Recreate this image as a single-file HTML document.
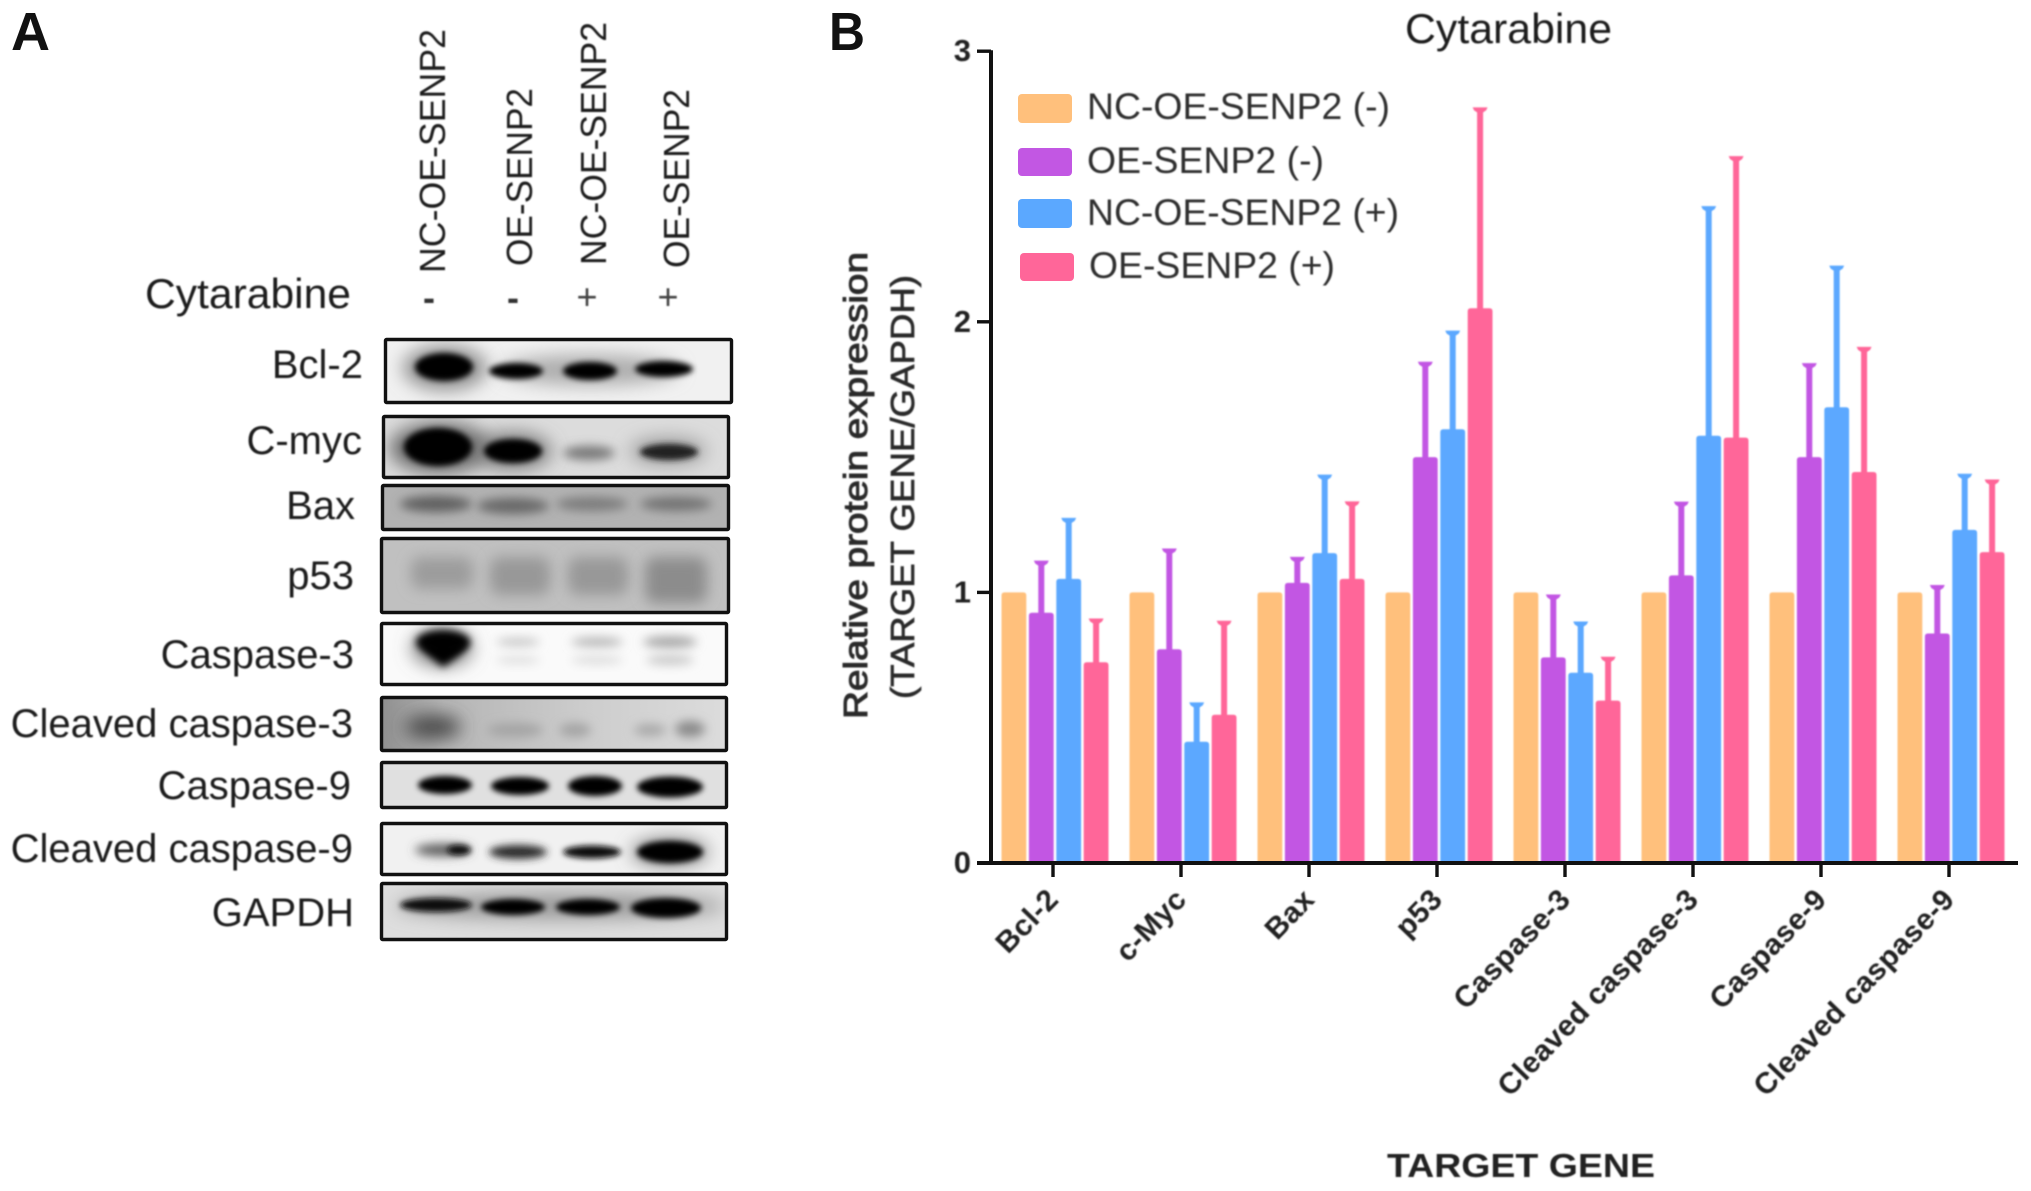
<!DOCTYPE html>
<html lang="en">
<head>
<meta charset="utf-8">
<title>Western blot and protein expression chart</title>
<style>
html,body{margin:0;padding:0;background:#fff;width:2031px;height:1191px;overflow:hidden}
svg{display:block;font-family:"Liberation Sans",Arial,sans-serif}
.soft{filter:url(#soft)}
.b3{filter:url(#b3)}
.b4{filter:url(#b4)}
.b5{filter:url(#b5)}
.b7{filter:url(#b7)}
.b8{filter:url(#b8)}
.frame{fill:none;stroke:#111;stroke-width:3.4}
.lbl{font-size:40px;fill:#1c1c1c;text-anchor:end}
.lane{font-size:36px;fill:#1c1c1c}
.leg{font-size:37px;fill:#2e2e2e}
</style>
</head>
<body>
<svg id="figure" xmlns="http://www.w3.org/2000/svg" width="2031" height="1191" viewBox="0 0 2031 1191">
<defs>
<filter id="soft" x="-5%" y="-5%" width="110%" height="110%"><feGaussianBlur stdDeviation="0.7"/></filter>
<filter id="b3" x="-50%" y="-100%" width="200%" height="300%"><feGaussianBlur stdDeviation="3"/></filter>
<filter id="b4" x="-50%" y="-100%" width="200%" height="300%"><feGaussianBlur stdDeviation="4"/></filter>
<filter id="b5" x="-50%" y="-100%" width="200%" height="300%"><feGaussianBlur stdDeviation="5"/></filter>
<filter id="b7" x="-50%" y="-100%" width="200%" height="300%"><feGaussianBlur stdDeviation="7"/></filter>
<filter id="b8" x="-50%" y="-100%" width="200%" height="300%"><feGaussianBlur stdDeviation="9"/></filter>
<linearGradient id="cl3bg" x1="0" x2="1" y1="0" y2="0"><stop offset="0" stop-color="#8f8f8f"/><stop offset=".18" stop-color="#b5b5b5"/><stop offset=".6" stop-color="#cdcdcd"/><stop offset="1" stop-color="#dcdcdc"/></linearGradient>
<clipPath id="c1"><rect x="385" y="339" width="347" height="64"/></clipPath>
<clipPath id="c2"><rect x="383" y="416" width="346" height="62"/></clipPath>
<clipPath id="c3"><rect x="382" y="485" width="347" height="45"/></clipPath>
<clipPath id="c4"><rect x="381" y="538" width="348" height="75"/></clipPath>
<clipPath id="c5"><rect x="381" y="623" width="346" height="62"/></clipPath>
<clipPath id="c6"><rect x="381" y="697" width="346" height="54"/></clipPath>
<clipPath id="c7"><rect x="381" y="762" width="346" height="46"/></clipPath>
<clipPath id="c8"><rect x="381" y="823" width="346" height="52"/></clipPath>
<clipPath id="c9"><rect x="381" y="883" width="346" height="57"/></clipPath>
</defs>

<g id="panel-a">
  <text x="11" y="50" font-size="54" font-weight="bold" fill="#111" textLength="39" lengthAdjust="spacingAndGlyphs">A</text>

  <g class="soft">
    <text class="lane" transform="translate(445,273) rotate(-90)" textLength="244" lengthAdjust="spacingAndGlyphs">NC-OE-SENP2</text>
    <text class="lane" transform="translate(532,266) rotate(-90)" textLength="178" lengthAdjust="spacingAndGlyphs">OE-SENP2</text>
    <text class="lane" transform="translate(606,265) rotate(-90)" textLength="243" lengthAdjust="spacingAndGlyphs">NC-OE-SENP2</text>
    <text class="lane" transform="translate(689,268) rotate(-90)" textLength="179" lengthAdjust="spacingAndGlyphs">OE-SENP2</text>
    <text x="145" y="308" font-size="42" fill="#1c1c1c" textLength="206" lengthAdjust="spacingAndGlyphs">Cytarabine</text>
    <text x="429" y="310" font-size="36" font-weight="bold" fill="#333" text-anchor="middle">-</text>
    <text x="513" y="310" font-size="36" font-weight="bold" fill="#333" text-anchor="middle">-</text>
    <text x="587" y="309" font-size="36" fill="#444" text-anchor="middle">+</text>
    <text x="668" y="309" font-size="36" fill="#444" text-anchor="middle">+</text>

    <text class="lbl" x="363" y="378">Bcl-2</text>
    <text class="lbl" x="362" y="454">C-myc</text>
    <text class="lbl" x="355" y="519">Bax</text>
    <text class="lbl" x="354" y="589">p53</text>
    <text class="lbl" x="354" y="668">Caspase-3</text>
    <text class="lbl" x="353" y="737">Cleaved caspase-3</text>
    <text class="lbl" x="351" y="799">Caspase-9</text>
    <text class="lbl" x="353" y="862">Cleaved caspase-9</text>
    <text class="lbl" x="354" y="926">GAPDH</text>
  </g>

  <g>
    <g clip-path="url(#c1)">
      <rect x="385" y="339" width="347" height="64" fill="#f1f1f1"/>
      <ellipse class="b8" cx="445" cy="368" rx="42" ry="22" fill="#8c8c8c"/>
      <ellipse class="b8" cx="590" cy="370" rx="88" ry="15" fill="#aaa"/>
      <ellipse class="b3" cx="444" cy="367" rx="29" ry="14" fill="#000"/>
      <ellipse class="b3" cx="516" cy="371" rx="27" ry="8" fill="#050505"/>
      <ellipse class="b3" cx="590" cy="371" rx="27" ry="9" fill="#000"/>
      <ellipse class="b3" cx="664" cy="369" rx="29" ry="8" fill="#000"/>
    </g>
    <rect class="frame" x="385.5" y="339.5" width="346" height="63" rx="1"/>
  </g>

  <g>
    <g clip-path="url(#c2)">
      <rect x="383" y="416" width="346" height="62" fill="#dcdcdc"/>
      <ellipse class="b8" cx="440" cy="448" rx="50" ry="25" fill="#666"/>
      <ellipse class="b8" cx="513" cy="451" rx="38" ry="18" fill="#777"/>
      <ellipse class="b8" cx="668" cy="451" rx="38" ry="13" fill="#999"/>
      <ellipse class="b3" cx="438" cy="447" rx="34" ry="19" fill="#000"/>
      <ellipse class="b3" cx="513" cy="451" rx="29" ry="12" fill="#000"/>
      <ellipse class="b5" cx="589" cy="453" rx="26" ry="7" fill="#777"/>
      <ellipse class="b3" cx="669" cy="452" rx="29" ry="8" fill="#222"/>
    </g>
    <rect class="frame" x="383.5" y="416.5" width="345" height="61" rx="1"/>
  </g>

  <g>
    <g clip-path="url(#c3)">
      <rect x="382" y="485" width="347" height="45" fill="#b2b2b2"/>
      <ellipse class="b5" cx="436" cy="504" rx="36" ry="8" fill="#5e5e5e"/>
      <ellipse class="b5" cx="513" cy="506" rx="36" ry="8" fill="#686868"/>
      <ellipse class="b5" cx="592" cy="504" rx="36" ry="7" fill="#7c7c7c"/>
      <ellipse class="b5" cx="676" cy="504" rx="36" ry="7" fill="#727272"/>
    </g>
    <rect class="frame" x="382.5" y="485.5" width="346" height="44" rx="1"/>
  </g>

  <g>
    <g clip-path="url(#c4)">
      <rect x="381" y="538" width="348" height="75" fill="#c0c0c0"/>
      <rect class="b7" x="411" y="557" width="62" height="32" rx="10" fill="#9c9c9c"/>
      <rect class="b7" x="490" y="557" width="60" height="38" rx="10" fill="#989898"/>
      <rect class="b7" x="568" y="557" width="60" height="38" rx="10" fill="#989898"/>
      <rect class="b7" x="645" y="557" width="62" height="46" rx="10" fill="#8c8c8c"/>
    </g>
    <rect class="frame" x="381.5" y="538.5" width="347" height="74" rx="1"/>
  </g>

  <g>
    <g clip-path="url(#c5)">
      <rect x="381" y="623" width="346" height="62" fill="#fafafa"/>
      <ellipse class="b8" cx="442" cy="648" rx="30" ry="18" fill="#777"/>
      <ellipse class="b4" cx="443" cy="642" rx="27" ry="12" fill="#000"/>
      <path class="b4" d="M421 642 L468 642 Q462 655 443 667 Q426 655 421 642 Z" fill="#000"/>
      <ellipse class="b5" cx="518" cy="642" rx="22" ry="4" fill="#c4c4c4"/>
      <ellipse class="b5" cx="518" cy="660" rx="22" ry="4" fill="#dedede"/>
      <ellipse class="b5" cx="597" cy="642" rx="26" ry="5" fill="#b8b8b8"/>
      <ellipse class="b5" cx="597" cy="660" rx="26" ry="4" fill="#dadada"/>
      <ellipse class="b5" cx="670" cy="642" rx="27" ry="6" fill="#a8a8a8"/>
      <ellipse class="b5" cx="670" cy="660" rx="24" ry="5" fill="#c8c8c8"/>
    </g>
    <rect class="frame" x="381.5" y="623.5" width="345" height="61" rx="1"/>
  </g>

  <g>
    <g clip-path="url(#c6)">
      <rect x="381" y="697" width="346" height="54" fill="url(#cl3bg)"/>
      <ellipse class="b8" cx="433" cy="727" rx="28" ry="12" fill="#4a4a4a"/>
      <ellipse class="b5" cx="515" cy="730" rx="28" ry="7" fill="#a4a4a4"/>
      <ellipse class="b5" cx="575" cy="730" rx="16" ry="7" fill="#a4a4a4"/>
      <ellipse class="b5" cx="650" cy="730" rx="16" ry="6" fill="#a8a8a8"/>
      <ellipse class="b5" cx="690" cy="729" rx="15" ry="8" fill="#8a8a8a"/>
    </g>
    <rect class="frame" x="381.5" y="697.5" width="345" height="53" rx="1"/>
  </g>

  <g>
    <g clip-path="url(#c7)">
      <rect x="381" y="762" width="346" height="46" fill="#e0e0e0"/>
      <ellipse class="b3" cx="445" cy="785" rx="27" ry="9" fill="#000"/>
      <ellipse class="b3" cx="520" cy="786" rx="29" ry="9" fill="#000"/>
      <ellipse class="b3" cx="595" cy="786" rx="27" ry="10" fill="#000"/>
      <ellipse class="b3" cx="670" cy="787" rx="33" ry="10.5" fill="#000"/>
    </g>
    <rect class="frame" x="381.5" y="762.5" width="345" height="45" rx="1"/>
  </g>

  <g>
    <g clip-path="url(#c8)">
      <rect x="381" y="823" width="346" height="52" fill="#f1f1f1"/>
      <ellipse class="b5" cx="443" cy="850" rx="28" ry="6" fill="#555"/>
      <ellipse class="b3" cx="459" cy="850" rx="12" ry="5" fill="#111"/>
      <ellipse class="b4" cx="518" cy="852" rx="29" ry="7" fill="#2a2a2a"/>
      <ellipse class="b3" cx="592" cy="852" rx="29" ry="6.5" fill="#0a0a0a"/>
      <ellipse class="b8" cx="670" cy="852" rx="38" ry="13" fill="#777"/>
      <ellipse class="b3" cx="670" cy="852" rx="33" ry="11" fill="#000"/>
    </g>
    <rect class="frame" x="381.5" y="823.5" width="345" height="51" rx="1"/>
  </g>

  <g>
    <g clip-path="url(#c9)">
      <rect x="381" y="883" width="346" height="57" fill="#dedede"/>
      <ellipse class="b8" cx="560" cy="906" rx="165" ry="13" fill="#999"/>
      <ellipse class="b3" cx="436" cy="905" rx="36" ry="7" fill="#0a0a0a"/>
      <ellipse class="b3" cx="513" cy="907" rx="32" ry="8" fill="#000"/>
      <ellipse class="b3" cx="588" cy="907" rx="32" ry="8" fill="#000"/>
      <ellipse class="b3" cx="666" cy="908" rx="35" ry="10" fill="#000"/>
    </g>
    <rect class="frame" x="381.5" y="883.5" width="345" height="56" rx="1"/>
  </g>
</g>

<g id="panel-b">
  <text x="829" y="50" font-size="54" font-weight="bold" fill="#111" textLength="36" lengthAdjust="spacingAndGlyphs">B</text>
  <text class="soft" x="1405" y="43" font-size="42" fill="#1c1c1c" textLength="207" lengthAdjust="spacingAndGlyphs">Cytarabine</text>

  <g id="bars" class="soft"></g>
  <g id="axes"></g>

  <g class="soft">
    <text transform="translate(867,719) rotate(-90)" font-size="33" fill="#2a2a2a" stroke="#2a2a2a" stroke-width="1" textLength="467" lengthAdjust="spacingAndGlyphs">Relative protein expression</text>
    <text transform="translate(914,699) rotate(-90)" font-size="33" fill="#2a2a2a" stroke="#2a2a2a" stroke-width="0.7" textLength="424" lengthAdjust="spacingAndGlyphs">(TARGET GENE/GAPDH)</text>
    <text x="1387" y="1177" font-size="33" font-weight="bold" fill="#222" textLength="268" lengthAdjust="spacingAndGlyphs">TARGET GENE</text>
  </g>

  <g class="legend">
    <g>
      <rect x="1018" y="94" width="54" height="29" rx="4" fill="#FFC07C"/>
      <text class="leg soft" x="1087" y="119" textLength="303" lengthAdjust="spacingAndGlyphs">NC-OE-SENP2 (-)</text>
    </g>
    <g>
      <rect x="1018" y="148" width="54" height="28" rx="4" fill="#C257E3"/>
      <text class="leg soft" x="1087" y="173" textLength="237" lengthAdjust="spacingAndGlyphs">OE-SENP2 (-)</text>
    </g>
    <g>
      <rect x="1018" y="199" width="54" height="29" rx="4" fill="#5BA8FF"/>
      <text class="leg soft" x="1087" y="225" textLength="312" lengthAdjust="spacingAndGlyphs">NC-OE-SENP2 (+)</text>
    </g>
    <g>
      <rect x="1020" y="253" width="54" height="28" rx="4" fill="#FF6699"/>
      <text class="leg soft" x="1089" y="278" textLength="246" lengthAdjust="spacingAndGlyphs">OE-SENP2 (+)</text>
    </g>
  </g>
</g>
</svg>

<script>
var categories = ['Bcl-2','c-Myc','Bax','p53','Caspase-3','Cleaved caspase-3','Caspase-9','Cleaved caspase-9'];
var seriesNames = ['NC-OE-SENP2 (-)','OE-SENP2 (-)','NC-OE-SENP2 (+)','OE-SENP2 (+)'];
var seriesColors = ['#FFC07C','#C257E3','#5BA8FF','#FF6699'];
var yTicks = [0,1,2,3];
var ncMinusValues = [1,1,1,1,1,1,1,1];
var oeMinusValues = [0.925,0.79,1.035,1.5,0.76,1.063,1.5,0.848];
var ncPlusValues  = [1.05,0.448,1.145,1.603,0.703,1.579,1.684,1.231];
var oePlusValues  = [0.742,0.548,1.05,2.05,0.6,1.572,1.445,1.149];
var ncMinusUpper = [null,null,null,null,null,null,null,null];
var oeMinusUpper = [1.11,1.155,1.124,1.845,0.985,1.328,1.84,1.02];
var ncPlusUpper  = [1.268,0.586,1.428,1.96,0.885,2.42,2.2,1.431];
var oePlusUpper  = [0.896,0.888,1.329,2.785,0.755,2.605,1.9,1.41];

var NS = 'http://www.w3.org/2000/svg';
var allValues = [ncMinusValues, oeMinusValues, ncPlusValues, oePlusValues];
var allUpper = [ncMinusUpper, oeMinusUpper, ncPlusUpper, oePlusUpper];

function yScale(v){ return 863 - v * 270.6; }
function xCenter(i){ return 1055 + i * 128; }
function xBar(i, s){ return xCenter(i) + (s - 1.5) * 27.4; }
function xTick(i){ return 1053 + i * 128; }
function make(tag, parent, attrs){
  var el = document.createElementNS(NS, tag);
  for (var k in attrs) el.setAttribute(k, attrs[k]);
  parent.appendChild(el);
  return el;
}
var slug = function(t){ return t.toLowerCase().replace(/[^a-z0-9]+/g, '-').replace(/-$/, ''); };

var barsLayer = document.getElementById('bars');
var axesLayer = document.getElementById('axes');
var BAR_W = 24.8;

categories.forEach(function(cat, i){
  seriesNames.forEach(function(name, s){
    var cx = xBar(i, s), top = yScale(allValues[s][i]), base = yScale(0);
    var upper = allUpper[s][i];
    var color = seriesColors[s];
    if (upper !== null) {
      var stem = make('line', barsLayer, {x1: cx, x2: cx, y1: top + 2, y2: yScale(upper), stroke: color, 'stroke-width': 6});
      
      
      var capY = yScale(upper);
      var cap = make('path', barsLayer, {d: 'M' + (cx - 7.5) + ' ' + (capY - 2) + ' L' + (cx + 7.5) + ' ' + (capY - 2) + ' L' + (cx + 6) + ' ' + (capY + 1) + ' L' + (cx + 3) + ' ' + (capY + 3) + ' L' + (cx - 3) + ' ' + (capY + 3) + ' L' + (cx - 6) + ' ' + (capY + 1) + ' Z', fill: color});
      
      
    }
    var l = cx - BAR_W / 2, r = cx + BAR_W / 2;
    var bar = make('path', barsLayer, {d: 'M' + l + ' ' + base + ' L' + l + ' ' + (top + 3) + ' Q' + l + ' ' + top + ' ' + (l + 3) + ' ' + top + ' L' + (r - 3) + ' ' + top + ' Q' + r + ' ' + top + ' ' + r + ' ' + (top + 3) + ' L' + r + ' ' + base + ' Z', fill: color});
    
    
  });
});

var yLine = make('line', axesLayer, {x1: 991, x2: 991, y1: yScale(3) - 1, y2: yScale(0) + 2, stroke: '#111', 'stroke-width': 4});


var xLine = make('line', axesLayer, {x1: 977, x2: 2018, y1: yScale(0), y2: yScale(0), stroke: '#111', 'stroke-width': 4});



yTicks.forEach(function(t){
  var tick = make('line', axesLayer, {x1: 977, x2: 991, y1: yScale(t), y2: yScale(t), stroke: '#111', 'stroke-width': 3.4});
  
  
  var lab = make('text', axesLayer, {x: 971, y: yScale(t) + 10, 'text-anchor': 'end', 'font-size': 31, 'font-weight': 'bold', fill: '#222', class: 'soft'});
  lab.textContent = t;
  
  
});

categories.forEach(function(cat, i){
  var tick = make('line', axesLayer, {x1: xTick(i), x2: xTick(i), y1: yScale(0), y2: yScale(0) + 14, stroke: '#111', 'stroke-width': 3.4});
  
  
  var ax = xTick(i) + 7, ay = yScale(0) + 38;
  var lab = make('text', axesLayer, {x: 0, y: 0, transform: 'translate(' + ax + ',' + ay + ') rotate(-46)', 'text-anchor': 'end', 'font-size': 30, 'letter-spacing': 0.3, 'font-weight': 'bold', fill: '#222', class: 'soft'});
  lab.textContent = cat;
  
  
});
</script>
</body>
</html>
